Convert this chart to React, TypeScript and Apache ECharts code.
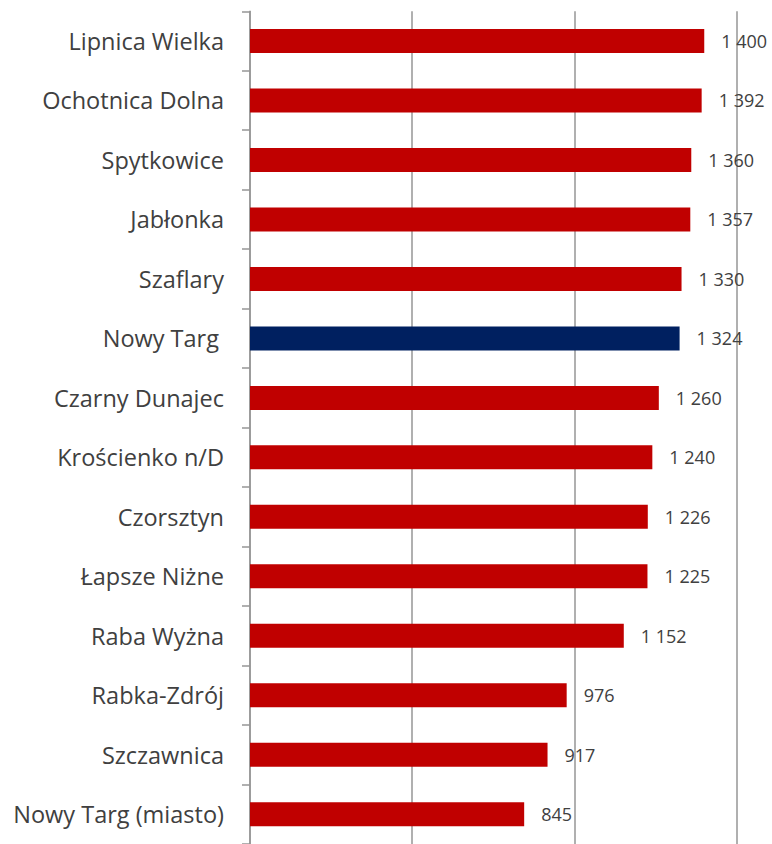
import React, { useEffect, useRef } from "react";
import * as echarts from "echarts";

const categories = [
  "Lipnica Wielka",
  "Ochotnica Dolna",
  "Spytkowice",
  "Jabłonka",
  "Szaflary",
  "Nowy Targ",
  "Czarny Dunajec",
  "Krościenko n/D",
  "Czorsztyn",
  "Łapsze Niżne",
  "Raba Wyżna",
  "Rabka-Zdrój",
  "Szczawnica",
  "Nowy Targ (miasto)",
];
const values = [1400, 1392, 1360, 1357, 1330, 1324, 1260, 1240, 1226, 1225, 1152, 976, 917, 845];
const highlighted = ["Nowy Targ"];

const RED = "#C00000";
const NAVY = "#002060";
const GRID = "#969696";
const TEXT = "#404040";

function fmt(v: number): string {
  return String(v).replace(/\B(?=(\d{3})+(?!\d))/g, " ");
}

export default function App() {
  const ref = useRef<HTMLDivElement>(null);
  useEffect(() => {
    document.body.style.margin = "0";
    document.body.style.overflow = "hidden";
    if (!ref.current) return;
    const chart = echarts.init(ref.current, null, { renderer: "svg" });
    chart.setOption({
      animation: false,
      grid: { left: 250, top: 11.25, width: 486.7, height: 836.5, containLabel: false },
      xAxis: {
        type: "value",
        min: 0,
        max: 1500,
        interval: 500,
        axisLabel: { show: false },
        axisLine: { show: false },
        axisTick: { show: false },
        splitLine: { show: true, lineStyle: { color: GRID, width: 1.5 } },
      },
      yAxis: {
        type: "category",
        data: categories,
        inverse: true,
        axisLine: { show: true, lineStyle: { color: GRID, width: 1.5 } },
        axisTick: { show: true, length: 8, lineStyle: { color: GRID, width: 1.5 } },
        axisLabel: {
          margin: 26,
          color: TEXT,
          fontFamily: "Open Sans",
          fontSize: 23.5,
          formatter: (v: string) => (highlighted.includes(v) ? `{pad|${v}}` : v),
          rich: {
            pad: {
              color: TEXT,
              fontFamily: "Open Sans",
              fontSize: 23.5,
              padding: [0, 5, 0, 0],
            },
          },
        },
      },
      series: [
        {
          type: "bar",
          barWidth: 24,
          data: values.map((v, i) => ({
            value: v,
            itemStyle: { color: highlighted.includes(categories[i]) ? NAVY : RED },
          })),
          label: {
            show: true,
            position: "right",
            distance: 17,
            color: TEXT,
            fontFamily: "Open Sans",
            fontSize: 18,
            formatter: (p: any) => fmt(p.value),
          },
        },
      ],
    });
    return () => chart.dispose();
  }, []);
  return <div ref={ref} style={{ width: 772, height: 844 }} />;
}
